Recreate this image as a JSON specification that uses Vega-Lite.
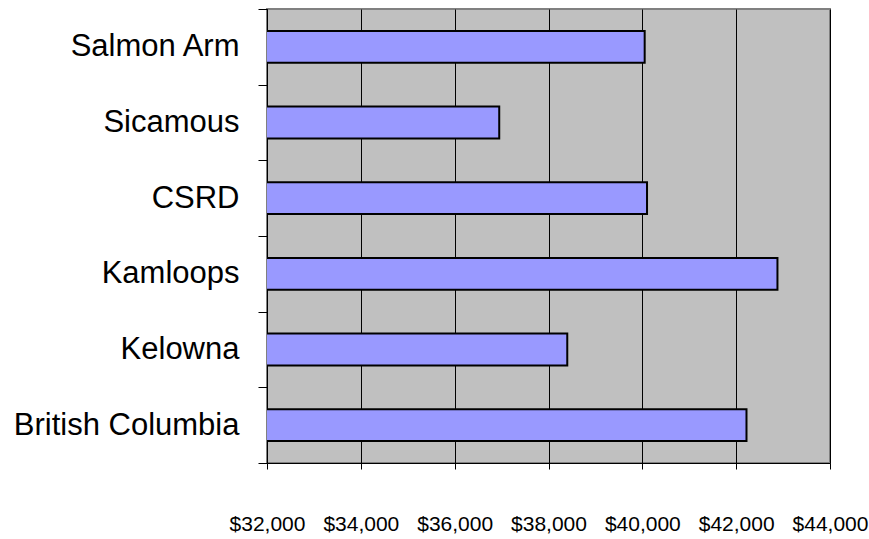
{
  "$schema": "https://vega.github.io/schema/vega-lite/v6.json",
  "autosize": {"type": "none"},
  "width": 563,
  "height": 454,
  "padding": {"left": 267, "top": 9, "right": 39, "bottom": 76},
  "background": "white",
  "config": {
    "view": {"fill": "#C0C0C0", "stroke": "#808080", "strokeWidth": 2},
    "font": "Liberation Sans"
  },
  "data": {
    "values": [
      {"region": "Salmon Arm", "income": 40050},
      {"region": "Sicamous", "income": 36950},
      {"region": "CSRD", "income": 40100},
      {"region": "Kamloops", "income": 42880},
      {"region": "Kelowna", "income": 38400},
      {"region": "British Columbia", "income": 42220}
    ]
  },
  "mark": {"type": "bar", "fill": "#9999FF", "stroke": "black", "strokeWidth": 2, "clip": true, "height": {"band": 0.42}},
  "encoding": {
    "y": {
      "field": "region",
      "type": "nominal",
      "sort": null,
      "scale": {"paddingInner": 0, "paddingOuter": 0},
      "axis": {
        "title": null,
        "tickBand": "extent",
        "domainColor": "black",
        "domainWidth": 1,
        "tickColor": "black",
        "tickSize": 9,
        "labelPadding": 19,
        "labelFontSize": 31,
        "labelFont": "Liberation Sans",
        "labelColor": "black",
        "labelLimit": 400
      }
    },
    "x": {
      "field": "income",
      "type": "quantitative",
      "scale": {"domain": [32000, 44000], "nice": false, "zero": false},
      "axis": {
        "title": null,
        "values": [32000, 34000, 36000, 38000, 40000, 42000, 44000],
        "format": "$,.0f",
        "grid": true,
        "gridColor": "black",
        "gridWidth": 1,
        "gridOpacity": 1,
        "domainColor": "black",
        "domainWidth": 1,
        "tickColor": "black",
        "tickSize": 6,
        "labelPadding": 44,
        "labelFontSize": 21,
        "labelFont": "Liberation Sans",
        "labelColor": "black",
        "labelFlush": false,
        "labelOverlap": false
      }
    }
  }
}
